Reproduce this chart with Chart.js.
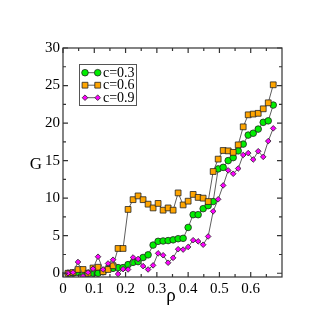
<!DOCTYPE html>
<html>
<head>
<meta charset="utf-8">
<script src="https://cdn.jsdelivr.net/npm/chart.js@4.4.1/dist/chart.umd.min.js"></script>
<style>
  body { margin: 0; background: #fff; }
  canvas { display: block; }
</style>
</head>
<body>
<canvas id="chart" width="318" height="326"></canvas>
<script>
const rho = [0.016, 0.032, 0.048, 0.064, 0.08, 0.096, 0.112, 0.128, 0.144, 0.16,
  0.176, 0.192, 0.208, 0.224, 0.24, 0.256, 0.272, 0.288, 0.304, 0.32,
  0.336, 0.352, 0.368, 0.384, 0.4, 0.416, 0.432, 0.448, 0.464, 0.48,
  0.496, 0.512, 0.528, 0.544, 0.56, 0.576, 0.592, 0.608, 0.624, 0.64, 0.656, 0.672]
const g03 = [0, 0, 0.1, 0.05, 0, 0, 0, 0.2, 0.65, 0.65,
  0.75, 0.75, 1.15, 1.45, 1.55, 2.1, 2.45, 3.75, 4.25, 4.3,
  4.35, 4.45, 4.6, 4.65, 6.1, 7.8, 7.8, 8.6, 9.0, 9.55,
  13.9, 14.1, 15.0, 15.4, 16.3, 17.2, 18.4, 18.65, 19.2, 20.1, 20.3, 22.4]
const g06 = [0, 0.1, 0.5, 0.5, 0, 0.7, 0.8, 0.2, 0.5, 1.0,
  3.3, 3.3, 8.5, 9.8, 10.3, 9.8, 9.2, 8.7, 9.3, 8.4,
  8.7, 8.4, 10.7, 9.1, 9.6, 10.5, 10.1, 10.0, 9.55, 13.55,
  15.2, 16.35, 16.3, 16.1, 17.1, 19.5, 21.1, 21.2, 21.3, 21.9, 22.7, 25.1]
const g09 = [0, 0.1, 1.5, -0.4, 0.1, 0.6, 2.2, 0.5, 1.3, 1.8,
  -0.1, 0.55, 0.5, 2.1, 1.9, 0.95, 0.5, 1.05, 2.65, 2.4,
  1.4, 2.05, 3.2, 3.15, 3.5, 4.4, 4.25, 3.8, 4.9, 8.25,
  9.85, 11.7, 13.7, 13.25, 13.95, 15.75, 16.0, 15.15, 16.25, 15.5, 17.6, 19.3]
const seriesLabels = ['c=0.3', 'c=0.6', 'c=0.9']
const xTicks = [0, 0.1, 0.2, 0.3, 0.4, 0.5, 0.6]
const xMinor = [0.05, 0.15, 0.25, 0.35, 0.45, 0.55, 0.65]
const yTicks = [0, 5, 10, 15, 20, 25, 30]
const yMinor = [2.5, 7.5, 12.5, 17.5, 22.5, 27.5]

const serif = 'Liberation Serif'
const pts = vals => vals.map((v, i) => ({x: rho[i], y: v}))

function series(label, vals, color, style, radius, order) {
  return {
    label: label,
    data: pts(vals),
    showLine: true,
    borderColor: '#5e5e5e',
    borderWidth: 1,
    pointStyle: style,
    pointRadius: radius,
    pointBackgroundColor: color,
    pointBorderColor: '#222',
    pointBorderWidth: 0.8,
    order: order
  }
}

// draw one marker the same way for the legend
function marker(ctx, ds, x, y) {
  const r = ds.pointRadius
  ctx.fillStyle = ds.pointBackgroundColor
  ctx.strokeStyle = ds.pointBorderColor
  ctx.lineWidth = ds.pointBorderWidth
  ctx.beginPath()
  if (ds.pointStyle === 'circle') ctx.arc(x, y, r, 0, Math.PI * 2)
  else if (ds.pointStyle === 'rect') { const s = r * Math.SQRT1_2; ctx.rect(x - s, y - s, 2 * s, 2 * s) }
  else { ctx.moveTo(x, y - r); ctx.lineTo(x + r, y); ctx.lineTo(x, y + r); ctx.lineTo(x - r, y); ctx.closePath() }
  ctx.fill(); ctx.stroke()
}

const frame = {
  id: 'frame',
  afterDraw(chart) {
    const {ctx, chartArea: a} = chart
    const x = chart.scales.x, y = chart.scales.y
    ctx.save()
    ctx.strokeStyle = '#333'
    ctx.lineWidth = 1.2
    ctx.strokeRect(a.left, a.top, a.right - a.left, a.bottom - a.top)
    ctx.beginPath()
    const xt = (v, len) => {
      const p = x.getPixelForValue(v)
      ctx.moveTo(p, a.bottom); ctx.lineTo(p, a.bottom - len)
      ctx.moveTo(p, a.top); ctx.lineTo(p, a.top + len)
    }
    const yt = (v, len) => {
      const p = y.getPixelForValue(v)
      ctx.moveTo(a.left, p); ctx.lineTo(a.left + len, p)
      ctx.moveTo(a.right, p); ctx.lineTo(a.right - len, p)
    }
    xTicks.forEach(v => xt(v, 5)); xMinor.forEach(v => xt(v, 3))
    yTicks.forEach(v => yt(v, 5)); yMinor.forEach(v => yt(v, 3))
    ctx.stroke()

    // legend box
    const lx = 79.5, ly = 64.5, lw = 57, lh = 41
    ctx.fillStyle = '#fff'
    ctx.fillRect(lx, ly, lw, lh)
    ctx.strokeStyle = '#555'
    ctx.lineWidth = 1
    ctx.strokeRect(lx, ly, lw, lh)
    chart.data.datasets.forEach((ds, i) => {
      const ry = 72.7 + i * 12.5
      ctx.strokeStyle = ds.borderColor
      ctx.lineWidth = 1
      ctx.beginPath(); ctx.moveTo(85, ry); ctx.lineTo(97.7, ry); ctx.stroke()
      marker(ctx, ds, 85, ry)
      marker(ctx, ds, 97.7, ry)
      ctx.fillStyle = '#000'
      ctx.font = '14px ' + serif
      ctx.textBaseline = 'middle'
      ctx.textAlign = 'left'
      ctx.fillText(ds.label, 103, ry + 0.5)
    })

    // axis titles
    ctx.fillStyle = '#000'
    ctx.font = '17px ' + serif
    ctx.textAlign = 'center'
    ctx.textBaseline = 'alphabetic'
    ctx.fillText('G', 36, 168.5)
    ctx.font = '19px ' + serif
    ctx.fillText('ρ', 171, 301)
    ctx.restore()
  }
}

new Chart(document.getElementById('chart'), {
  type: 'scatter',
  data: {
    datasets: [
      series(seriesLabels[0], g03, '#00ee00', 'circle', 3.3, 3),
      series(seriesLabels[1], g06, '#ffa500', 'rect', 4.1, 2),
      series(seriesLabels[2], g09, '#ff00ff', 'rectRot', 2.8, 1)
    ]
  },
  options: {
    responsive: false,
    animation: false,
    devicePixelRatio: 1,
    events: [],
    layout: { padding: { left: 0, right: 36, top: 48, bottom: 0 } },
    plugins: { legend: { display: false }, tooltip: { enabled: false } },
    scales: {
      x: {
        type: 'linear', min: 0, max: 0.7,
        afterFit: s => { s.height = 49 },
        afterBuildTicks: s => { s.ticks = xTicks.map(v => ({value: v})) },
        grid: { display: false, drawTicks: false },
        border: { display: false },
        ticks: {
          color: '#000', padding: 3, maxRotation: 0,
          font: { family: serif, size: 15 },
          callback: v => String(v)
        }
      },
      y: {
        type: 'linear', min: -0.5, max: 30,
        afterFit: s => { s.width = 63 },
        afterBuildTicks: s => { s.ticks = yTicks.map(v => ({value: v})) },
        grid: { display: false, drawTicks: false },
        border: { display: false },
        ticks: {
          color: '#000', padding: 3,
          font: { family: serif, size: 15 },
          callback: v => String(v)
        }
      }
    }
  },
  plugins: [frame]
})
</script>
</body>
</html>
